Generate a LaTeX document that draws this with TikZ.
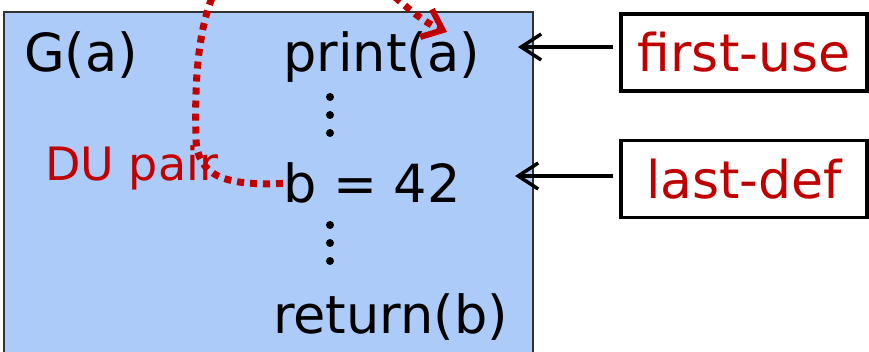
\documentclass[tikz,border=0pt]{standalone}
\usepackage{fontspec}
\setmainfont{DejaVu Sans}
\usetikzlibrary{arrows.meta,positioning}
\definecolor{duBlue}{RGB}{172,203,248}
\definecolor{duRed}{RGB}{192,0,0}
\definecolor{duGray}{RGB}{50,50,50}
\tikzset{
    code/.style={
        font=\fontsize{52.5}{62}\selectfont,inner sep=0pt,anchor=base west
    },
    tag/.style={
        draw=black,line width=3.5pt,minimum width=246pt,minimum height=77pt,
        inner sep=0pt,font=\fontsize{52}{62}\selectfont,text=duRed
    },
    arrow/.style={
        -{Straight Barb[length=20pt,width=26pt,line width=3.5pt]},
        line width=3.5pt,shorten <=6pt
    },
    dupath/.style={
        draw=duRed,line width=7pt,dash pattern=on 7pt off 6pt,
        -{Straight Barb[length=18pt,width=30pt,line width=6pt]}
    }
}

\begin{document}
\begin{tikzpicture}[x=1pt,y=-1pt]
\useasboundingbox (0,0) rectangle (869,352);
\clip (0,0) rectangle (869,352);

% function body
\draw[draw=duGray,line width=2pt,fill=duBlue] (4,12) rectangle (533,370);

\node[code] (ga) at (24,72) {G(a)};
\node[code] (prt) at (283,72) {print(a)};
\node[code] (def) at (283,203) {b = 42};
\node[code] (ret) at (273,333) {return(b)};
\node[code,font=\fontsize{46}{54}\selectfont,text=duRed] (du) at (45,181) {DU pair};

\foreach \y in {97,115,133,225,243,261}
    \fill (330,\y) circle (4);

% labels on the right
\node[tag] (fu) at (744,52.5) {first-use};
\node[tag] (ld) at (744,179) {last-def};

\coordinate (fuin) at (518,47);
\coordinate (ldin) at (515,176);
\draw[arrow] (fu.west |- fuin) -- (fuin);
\draw[arrow] (ld.west |- ldin) -- (ldin);

% def-use pair
\coordinate (prtin) at (447,32);
\draw[dupath] (def.west) .. controls (225,186) and (198,176) .. (196,140)
    .. controls (194,60) and (198,-60) .. (290,-60)
    .. controls (355,-60) and (395,10) .. (prtin);

\end{tikzpicture}
\end{document}
